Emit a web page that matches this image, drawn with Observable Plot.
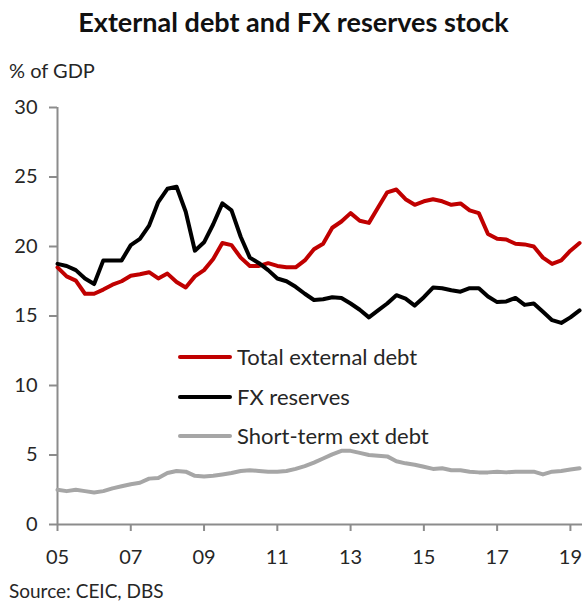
<!DOCTYPE html>
<html>
<head>
<meta charset="utf-8">
<script src="https://cdn.jsdelivr.net/npm/d3@7"></script>
<script src="https://cdn.jsdelivr.net/npm/@observablehq/plot@0.6"></script>
<style>
  html, body { margin: 0; padding: 0; background: #fff; }
  #wrap { position: relative; width: 587px; height: 602px; font-family: Lato, "Open Sans", sans-serif; color: #262626; overflow: hidden; }
  #title { position: absolute; left: 0; width: 587px; top: 5px; text-align: center; font-weight: bold; font-size: 27px; color: #111; }
  #unit { position: absolute; left: 9px; top: 58px; font-size: 20px; }
  #chart { position: absolute; left: 0; top: 90px; }
  #source { position: absolute; left: 9px; top: 579px; font-size: 19px; }
  .leg { position: absolute; left: 178px; font-size: 22px; display: flex; align-items: center; white-space: nowrap; }
  .leg .sw { width: 54px; height: 4px; border-radius: 2px; margin-right: 5px; }
</style>
</head>
<body>
<div id="wrap">
  <div id="title">External debt and FX reserves stock</div>
  <div id="unit">% of GDP</div>
  <div id="chart"></div>
  <div id="legend"></div>
  <div id="source">Source: CEIC, DBS</div>
</div>
<script>
// Quarterly data, 2005Q1 .. 2019Q2 (% of GDP)
const startYear = 2005;
const seriesNames = ["Total external debt", "FX reserves", "Short-term ext debt"];
const seriesColors = ["#c00000", "#000000", "#a6a6a6"];

const totalExternalDebt = [
  18.5, 17.85, 17.55, 16.6, 16.6, 16.9, 17.25, 17.5, 17.9, 18.0,
  18.15, 17.7, 18.05, 17.45, 17.05, 17.85, 18.3, 19.1, 20.25, 20.1,
  19.2, 18.6, 18.6, 18.8, 18.6, 18.5, 18.5, 19.0, 19.8, 20.2,
  21.35, 21.8, 22.4, 21.85, 21.7, 22.8, 23.9, 24.1, 23.4, 23.0,
  23.25, 23.4, 23.25, 23.0, 23.1, 22.6, 22.4, 20.9, 20.55, 20.5,
  20.2, 20.15, 20.0, 19.2, 18.75, 19.0, 19.7, 20.25
];
const fxReserves = [
  18.75, 18.6, 18.3, 17.7, 17.3, 19.0, 19.0, 19.0, 20.1, 20.55,
  21.5, 23.2, 24.15, 24.3, 22.5, 19.7, 20.3, 21.6, 23.1, 22.6,
  20.7, 19.2, 18.8, 18.3, 17.7, 17.5, 17.1, 16.6, 16.15, 16.2,
  16.35, 16.3, 15.9, 15.45, 14.9, 15.4, 15.9, 16.5, 16.25, 15.75,
  16.35, 17.05, 17.0, 16.85, 16.75, 17.0, 17.0, 16.4, 16.0, 16.05,
  16.3, 15.8, 15.9, 15.3, 14.7, 14.5, 14.9, 15.4
];
const shortTermDebt = [
  2.5, 2.4, 2.5, 2.4, 2.3, 2.4, 2.6, 2.75, 2.9, 3.0,
  3.3, 3.35, 3.7, 3.85, 3.8, 3.5, 3.45, 3.5, 3.6, 3.7,
  3.85, 3.9, 3.85, 3.8, 3.8, 3.85, 4.0, 4.2, 4.45, 4.75,
  5.05, 5.3, 5.3, 5.15, 5.0, 4.95, 4.9, 4.55, 4.4, 4.3,
  4.15, 4.0, 4.05, 3.9, 3.9, 3.8, 3.75, 3.75, 3.8, 3.75,
  3.8, 3.8, 3.8, 3.6, 3.8, 3.85, 3.95, 4.05
];

const xTicks = [2005, 2007, 2009, 2011, 2013, 2015, 2017, 2019];
const xTickLabels = ["05", "07", "09", "11", "13", "15", "17", "19"];
const yTicks = [0, 5, 10, 15, 20, 25, 30];

const allSeries = [totalExternalDebt, fxReserves, shortTermDebt];
const rows = allSeries.map((vals, s) =>
  vals.map((v, i) => ({ t: startYear + i / 4, v, s: seriesNames[s] }))
);

const axisColor = "#8c8c8c";
const textColor = "#262626";

const chart = Plot.plot({
  width: 587,
  height: 480,
  marginLeft: 57,
  marginRight: 5,
  marginTop: 17,
  marginBottom: 46,
  style: { fontFamily: "Lato, 'Open Sans', sans-serif", fontSize: "20px", color: textColor, background: "transparent", overflow: "visible" },
  x: { domain: [2005, 2019.33], label: null },
  y: { domain: [0, 30], label: null },
  marks: [
    Plot.ruleX([xTicks[0]], { stroke: axisColor, strokeWidth: 2 }),
    Plot.ruleY([yTicks[0]], { stroke: axisColor, strokeWidth: 2 }),
    Plot.axisY({ ticks: yTicks, tickSize: 8, tickPadding: 12, stroke: axisColor, strokeWidth: 2, fill: textColor, label: null, fontSize: 20 }),
    Plot.axisX({ ticks: xTicks, tickFormat: d => xTickLabels[xTicks.indexOf(d)], tickSize: 7, tickPadding: 18, stroke: axisColor, strokeWidth: 2, fill: textColor, label: null, fontSize: 20 }),
    ...rows.map((r, s) => Plot.line(r, { x: "t", y: "v", stroke: seriesColors[s], strokeWidth: 4, strokeLinejoin: "round", strokeLinecap: "round" }))
  ]
});
document.getElementById("chart").appendChild(chart);

// Legend (inside the plot area, as in the original)
const legendTops = [343, 383, 422];
const legend = document.getElementById("legend");
seriesNames.forEach((name, s) => {
  const d = document.createElement("div");
  d.className = "leg";
  d.style.top = legendTops[s] + "px";
  d.innerHTML = `<div class="sw" style="background:${seriesColors[s]}"></div><span>${name}</span>`;
  legend.appendChild(d);
});
</script>
</body>
</html>
